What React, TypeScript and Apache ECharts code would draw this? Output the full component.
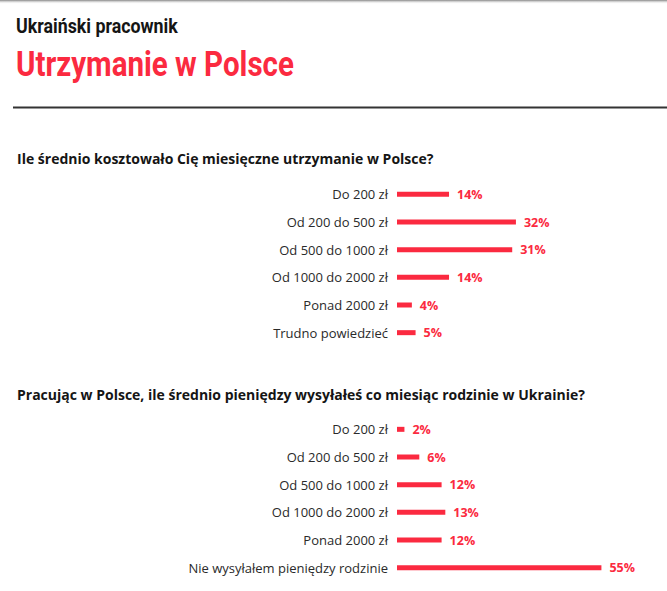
import React, { useEffect, useRef } from "react";
import * as echarts from "echarts";

const categories1 = ["Do 200 zł", "Od 200 do 500 zł", "Od 500 do 1000 zł", "Od 1000 do 2000 zł", "Ponad 2000 zł", "Trudno powiedzieć"];
const values1 = [14, 32, 31, 14, 4, 5];
const categories2 = ["Do 200 zł", "Od 200 do 500 zł", "Od 500 do 1000 zł", "Od 1000 do 2000 zł", "Ponad 2000 zł", "Nie wysyłałem pieniędzy rodzinie"];
const values2 = [2, 6, 12, 13, 12, 55];

const supTitle = "Ukraiński pracownik";
const mainTitle = "Utrzymanie w Polsce";
const question1 = "Ile średnio kosztowało Cię miesięczne utrzymanie w Polsce?";
const question2 = "Pracując w Polsce, ile średnio pieniędzy wysyłałeś co miesiąc rodzinie w Ukrainie?";

const RED = "#fb2a40";
const TITLE_FONT = "Roboto, sans-serif";
const FONT = "'Open Sans', Roboto, sans-serif";

export default function App() {
  const ref = useRef<HTMLDivElement>(null);
  useEffect(() => {
    if (!ref.current) return;
    const chart = echarts.init(ref.current, undefined, { renderer: "svg" });
    const grids = [
      { left: 397, top: 180.5, width: 223, height: 166 },
      { left: 397, top: 415.5, width: 223, height: 166 },
    ];
    const cats = [categories1, categories2];
    const vals = [values1, values2];
    chart.setOption({
      animation: false,
      backgroundColor: "#ffffff",
      textStyle: { fontFamily: FONT },
      graphic: [
        {
          type: "rect",
          shape: { x: 0, y: 0, width: 667, height: 4 },
          style: {
            fill: new echarts.graphic.LinearGradient(0, 0, 0, 1, [
              { offset: 0, color: "rgba(120,120,120,0.9)" },
              { offset: 1, color: "rgba(255,255,255,0)" },
            ]),
          },
        },
        { type: "rect", shape: { x: 13, y: 106.5, width: 654, height: 2 }, style: { fill: "#333333" } },
        {
          type: "text",
          x: 16,
          y: 26.5,
          scaleX: 0.89,
          style: { text: supTitle, font: `bold 20px ${TITLE_FONT}`, fill: "#151515", verticalAlign: "middle" },
        },
        {
          type: "text",
          x: 16,
          y: 63,
          scaleX: 0.82,
          style: { text: mainTitle, font: `bold 36px ${TITLE_FONT}`, fill: RED, verticalAlign: "middle" },
        },
        {
          type: "text",
          x: 17,
          y: 158,
          style: { text: question1, font: `bold 14px ${FONT}`, fill: "#151515", verticalAlign: "middle" },
        },
        {
          type: "text",
          x: 17,
          y: 394.5,
          style: { text: question2, font: `bold 14px ${FONT}`, fill: "#151515", verticalAlign: "middle" },
        },
      ],
      grid: grids,
      xAxis: grids.map((_, i) => ({
        type: "value",
        gridIndex: i,
        min: 0,
        max: 60,
        show: false,
      })),
      yAxis: grids.map((_, i) => ({
        type: "category",
        gridIndex: i,
        data: cats[i],
        inverse: true,
        axisLine: { show: false },
        axisTick: { show: false },
        axisLabel: { fontFamily: FONT, fontSize: 13, color: "#2a2a2a", margin: 9 },
      })),
      series: grids.map((_, i) => ({
        type: "bar",
        xAxisIndex: i,
        yAxisIndex: i,
        data: vals[i],
        barWidth: 5,
        itemStyle: { color: RED },
        label: {
          show: true,
          position: "right",
          distance: 8,
          formatter: "{c}%",
          fontFamily: FONT,
          fontSize: 12.5,
          fontWeight: "bold",
          color: RED,
        },
      })),
    });
    return () => chart.dispose();
  }, []);
  return <div ref={ref} style={{ position: "fixed", left: 0, top: 0, width: 667, height: 591 }} />;
}
